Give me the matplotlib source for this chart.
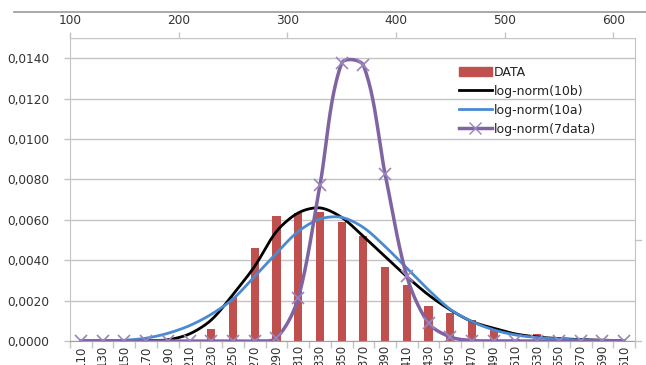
import numpy as np
import matplotlib
matplotlib.use("Agg")
import matplotlib.pyplot as plt
from matplotlib.lines import Line2D
from matplotlib.ticker import FuncFormatter

# class midpoints (bins of width 20)
bins = [110, 130, 150, 170, 190, 210, 230, 250, 270, 290, 310, 330, 350,
        370, 390, 410, 430, 450, 470, 490, 510, 530, 550, 570, 590, 610]

data = [0, 0, 0, 0, 0, 0, 0.0006, 0.0022, 0.0046, 0.0062, 0.00635, 0.0064,
        0.00587, 0.0052, 0.00366, 0.00276, 0.00174, 0.0014, 0.00104, 0.00066,
        0.0001, 0.00035, 0.0001, 0.00005, 0, 0]

lognorm_10b = [0, 0, 0.00001, 0.00002, 0.00006, 0.00035, 0.00104, 0.0023,
               0.0037, 0.00542, 0.00634, 0.00659, 0.00612, 0.00518, 0.00418,
               0.00319, 0.00228, 0.00154, 0.00096, 0.00063, 0.00035, 0.0002,
               0.00012, 0.00007, 0.00004, 0.00002]

lognorm_10a = [0, 0.00001, 0.00004, 0.00014, 0.00038, 0.00076, 0.00132,
               0.00208, 0.0032, 0.00435, 0.00542, 0.00604, 0.00612, 0.00562,
               0.00468, 0.00361, 0.00253, 0.00157, 0.00096, 0.00055, 0.0003,
               0.00017, 0.0001, 0.00005, 0.00003, 0.00001]

lognorm_7data = [0, 0, 0, 0, 0, 0, 0, 0, 0, 0.00015, 0.00212, 0.0077,
                 0.01375, 0.01365, 0.00827, 0.0032, 0.00088, 0.0002,
                 0.00002, 0.00001, 0, 0, 0, 0, 0, 0]

top_ticks = [100, 200, 300, 400, 500, 600]
y_ticks = [0, 0.002, 0.004, 0.006, 0.008, 0.010, 0.012, 0.014]

# rough pixel scale of the axes, so the smoothing works in screen space
XPX = 565 / 520
YPX = 303 / 0.015


def smooth(x, y, k=0.3, n=24):
    # Bezier through the points; handle direction from the neighbours,
    # handle length a fraction of the segment itself
    p = np.column_stack([np.asarray(x, float) * XPX, np.asarray(y, float) * YPX])
    m = len(p)
    tang = np.zeros_like(p)
    for i in range(m):
        d = p[min(i + 1, m - 1)] - p[max(i - 1, 0)]
        tang[i] = d / (np.hypot(*d) or 1)
    t = np.linspace(0, 1, n, endpoint=False)[:, None]
    out = []
    for i in range(m - 1):
        p1, p2 = p[i], p[i + 1]
        L = np.hypot(*(p2 - p1)) * k
        c1 = p1 + tang[i] * L
        c2 = p2 - tang[i + 1] * L
        out.append((1 - t) ** 3 * p1 + 3 * (1 - t) ** 2 * t * c1
                   + 3 * (1 - t) * t ** 2 * c2 + t ** 3 * p2)
    out.append(p[-1:])
    out = np.vstack(out)
    return out[:, 0] / XPX, out[:, 1] / YPX


plt.rcParams['font.family'] = 'DejaVu Sans'
grid_c = '#C4C4C4'
text_c = '#333333'

fig = plt.figure(figsize=(6.46, 3.65), dpi=100)
ax = fig.add_axes([70 / 646, 24 / 365, 565 / 646, 303 / 365])

ax.bar(bins, data, width=7.5, color='#C0504D', label='DATA', zorder=2)

sx, sy = smooth(bins, lognorm_10b)
ax.plot(sx, sy, color='black', lw=2, label='log-norm(10b)', zorder=3)
sx, sy = smooth(bins, lognorm_10a)
ax.plot(sx, sy, color='#4A8AD0', lw=2, label='log-norm(10a)', zorder=3)
sx, sy = smooth(bins, lognorm_7data)
ax.plot(sx, sy, color='#8064A2', lw=2.5, zorder=4)
ax.plot(bins, lognorm_7data, ls='none', marker='x', ms=8, mew=1.2,
        color='#9A85C0', zorder=5)

ax.set_xlim(100, 620)
ax.set_ylim(0, 0.015)

# horizontal grid
ax.set_yticks(y_ticks)
ax.yaxis.set_major_formatter(FuncFormatter(lambda v, p: f"{v:.4f}".replace('.', ',')))
ax.yaxis.grid(True, color=grid_c, lw=1)
ax.axhline(0.015, color=grid_c, lw=1)
ax.set_axisbelow(True)
ax.tick_params(axis='y', length=4, width=1, color=grid_c, pad=11,
               labelsize=8.7, labelcolor=text_c)

# bottom: category boundaries as ticks, midpoints as labels
ax.set_xticks(np.arange(100, 621, 20))
ax.set_xticklabels([])
ax.set_xticks(bins, minor=True)
ax.set_xticklabels([str(b) for b in bins], minor=True, rotation=90)
ax.tick_params(axis='x', which='major', length=5, width=1, color=grid_c)
ax.tick_params(axis='x', which='minor', length=0, pad=3, labelsize=8.5,
               labelcolor=text_c)

# top value axis
top = ax.secondary_xaxis('top')
top.set_xticks(top_ticks)
top.tick_params(length=4, width=1, color=grid_c, pad=4, labelsize=8.7,
                labelcolor=text_c)
top.spines['top'].set_visible(False)

ax.spines['top'].set_visible(False)
ax.spines['left'].set_color(grid_c)
ax.spines['bottom'].set_color('#A0A0A0')
ax.spines['right'].set_color(grid_c)

# little stub on the right border and the outer frame line
fig.add_artist(Line2D([635 / 646, 641 / 646], [1 - 240 / 365] * 2, color=grid_c, lw=1))
fig.add_artist(Line2D([635 / 646, 641 / 646], [1 - 341 / 365] * 2, color=grid_c, lw=1))
fig.add_artist(Line2D([14 / 646, 1.0], [1 - 12 / 365] * 2, color='#999999', lw=1.2))

handles = [
    plt.Rectangle((0, 0), 1, 1, color='#C0504D'),
    Line2D([], [], color='black', lw=2),
    Line2D([], [], color='#4A8AD0', lw=2),
    Line2D([], [], color='#8064A2', lw=2.5, marker='x', ms=8, mec='#9A85C0'),
]
labels = ['DATA', 'log-norm(10b)', 'log-norm(10a)', 'log-norm(7data)']
leg = ax.legend(handles, labels, loc='upper left', bbox_to_anchor=(0.68, 0.925),
                frameon=False, fontsize=9, handlelength=2.6, handletextpad=0.2,
                labelspacing=0.48, borderaxespad=0)
for t in leg.get_texts():
    t.set_color('#222222')

fig.savefig('out.png', dpi=100)
